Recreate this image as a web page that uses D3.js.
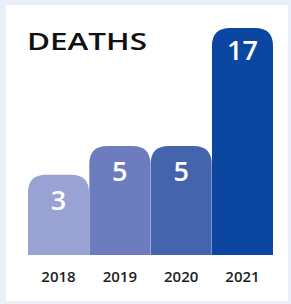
<!DOCTYPE html>
<html><head><meta charset="utf-8">
<script src="https://cdn.jsdelivr.net/npm/d3@7"></script>
<style>html,body{margin:0;padding:0;background:#e9f0f9;}svg{display:block;}</style>
</head><body>
<script>
const title = "DEATHS";
const years = ["2018", "2019", "2020", "2021"];
const deaths = [3, 5, 5, 17];
const barColors = ["#98a2d3", "#6d7cbf", "#4464ae", "#0b47a1"];

const W = 291, H = 304;
const svg = d3.select("body").append("svg").attr("width", W).attr("height", H);
svg.append("rect").attr("width", W).attr("height", H).attr("fill", "#e9f0f9");
svg.append("rect").attr("x", 6).attr("y", 5).attr("width", 282).attr("height", 296).attr("fill", "#ffffff");

const x = d3.scaleBand().domain(years).range([28, 273]).paddingInner(0.005);
const y = d3.scalePow().exponent(0.6).domain([0, 17]).range([255, 28]);
const r = 18;

function barPath(x0, w, top, base) {
  const rr = Math.min(r, (base - top), w / 2);
  return `M${x0},${base}V${top + rr}Q${x0},${top} ${x0 + rr},${top}H${x0 + w - rr}Q${x0 + w},${top} ${x0 + w},${top + rr}V${base}Z`;
}

svg.selectAll("path.bar").data(deaths).enter().append("path")
  .attr("class", "bar")
  .attr("d", (d, i) => barPath(x(years[i]), x.bandwidth(), y(d), y(0)))
  .attr("fill", (d, i) => barColors[i]);

svg.selectAll("text.val").data(deaths).enter().append("text")
  .attr("class", "val")
  .attr("x", (d, i) => x(years[i]) + x.bandwidth() / 2)
  .attr("y", d => y(d) + (d > 10 ? 32 : 35))
  .attr("text-anchor", "middle")
  .attr("font-family", "'Open Sans', sans-serif")
  .attr("font-size", 27)
  .attr("font-weight", 600)
  .attr("fill", "#ffffff")
  .text(d => d);

const xAxis = d3.axisBottom(x).tickSize(0).tickPadding(0);
const ax = svg.append("g").attr("transform", `translate(0,${y(0) + 27})`).call(xAxis);
ax.select(".domain").remove();
ax.selectAll("text")
  .attr("dy", 0)
  .attr("font-family", "'Open Sans', sans-serif")
  .attr("font-size", 15)
  .attr("font-weight", 600)
  .attr("fill", "#1e1e1e");

svg.append("text")
  .attr("x", 27).attr("y", 50)
  .attr("font-family", "'Open Sans', sans-serif")
  .attr("font-size", 24)
  .attr("font-weight", 600)
  .attr("fill", "#111111")
  .attr("textLength", 120)
  .attr("lengthAdjust", "spacingAndGlyphs")
  .text(title);
</script>
</body></html>
